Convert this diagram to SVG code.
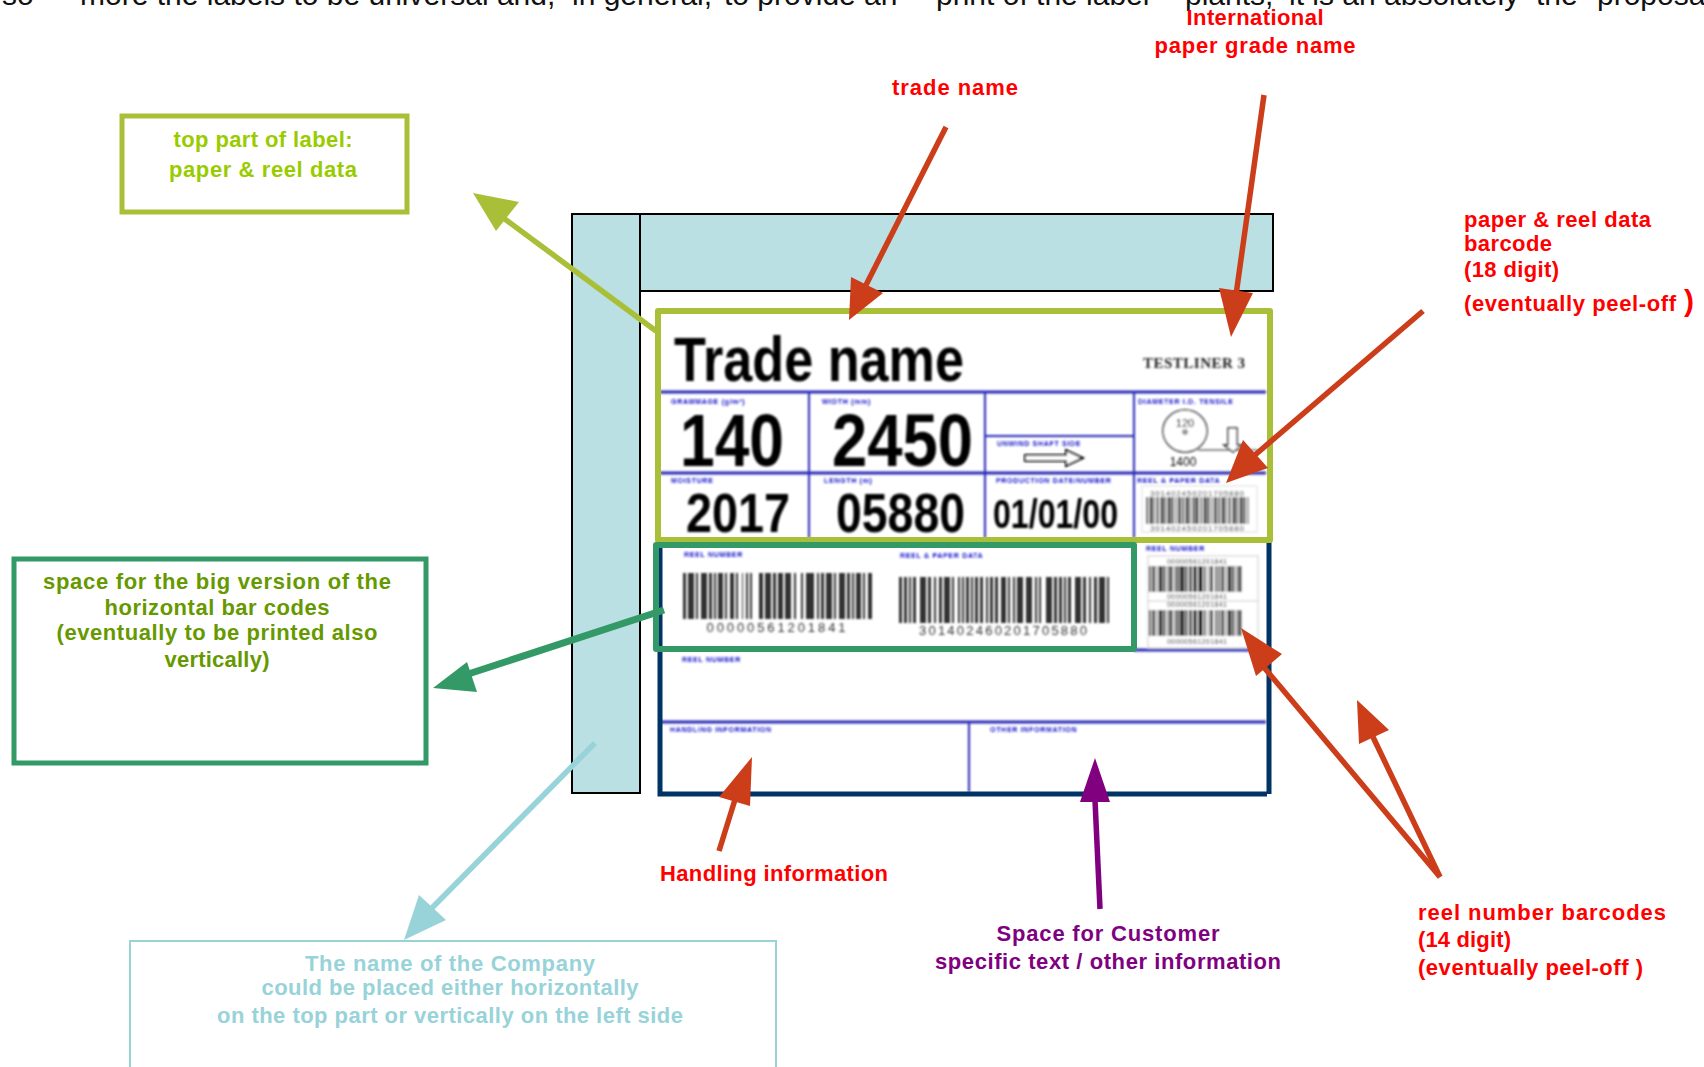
<svg xmlns="http://www.w3.org/2000/svg" width="1704" height="1067" viewBox="0 0 1704 1067">
<defs><filter id="blur" x="-0.02" y="-0.02" width="1.04" height="1.04"><feGaussianBlur stdDeviation="0.8"/></filter></defs>
<style>
text{font-family:"Liberation Sans",Arial,sans-serif}
.r{fill:#f00;font-size:22px;font-weight:bold}
.m{text-anchor:middle}
.p{fill:#800080;font-size:22px;font-weight:bold}
.bl{fill:#11c;font-size:7px;font-weight:bold;letter-spacing:.7px}
.k{fill:#000;font-weight:bold}
.g{stroke:#2a2ab8;stroke-width:2;fill:none}
.h{stroke:#2a2ab8;stroke-width:3;fill:none}
.d{fill:#333;text-anchor:middle}
.bar{fill:none;stroke:#333}
</style>
<rect width="1704" height="1067" fill="#fff"/>
<text y="5" font-size="30" fill="#111"><tspan x="2">so</tspan><tspan x="80">more the labels to be universal and,</tspan><tspan x="572">in general,</tspan><tspan x="724">to provide an</tspan><tspan x="936">print of the label</tspan><tspan x="1185">plants,</tspan><tspan x="1289">it is an absolutely</tspan><tspan x="1536">the</tspan><tspan x="1597">proposal</tspan></text>
<g id="company-band"><path d="M572 214H1273V291H640V793H572Z" fill="#bae0e3" stroke="#000" stroke-width="2"/><path d="M640 214V291" stroke="#000" stroke-width="2"/></g>
<g id="label">
<rect x="660" y="312" width="608" height="482" fill="#fff"/>
<g filter="url(#blur)">
<path class="h" d="M660 392H1266M660 473H1266M660 722H1266M1134 650H1258"/>
<path class="g" d="M809 392V538M985 392V538M1134 392V538M985 436H1134M969 722V792"/>
<text class="k" x="674" y="381" font-size="63" textLength="290" lengthAdjust="spacingAndGlyphs">Trade name</text>
<text x="1143" y="368" font-size="15" font-weight="bold" style="font-family:'Liberation Serif',serif" textLength="102" fill="#222">TESTLINER 3</text>
<text class="bl" x="671" y="404">GRAMMAGE (g/m²)</text><text class="bl" x="822" y="404">WIDTH (mm)</text><text class="bl" x="997" y="446">UNWIND SHAFT SIDE</text><text class="bl" x="1138" y="404">DIAMETER I.D. TENSILE</text>
<text class="bl" x="671" y="483">MOISTURE</text><text class="bl" x="824" y="483">LENGTH (m)</text><text class="bl" x="996" y="483">PRODUCTION DATE/NUMBER</text><text class="bl" x="1137" y="483">REEL &amp; PAPER DATA</text>
<text class="k" x="680" y="466" font-size="74" textLength="104" lengthAdjust="spacingAndGlyphs">140</text><text class="k" x="832" y="466" font-size="74" textLength="141" lengthAdjust="spacingAndGlyphs">2450</text>
<text class="k" x="686" y="532" font-size="56" textLength="104" lengthAdjust="spacingAndGlyphs">2017</text><text class="k" x="836" y="532" font-size="56" textLength="129" lengthAdjust="spacingAndGlyphs">05880</text><text class="k" x="993" y="528" font-size="40" textLength="125" lengthAdjust="spacingAndGlyphs">01/01/00</text>
<path d="M1025 455H1066V450L1083 458L1066 466V461H1025Z" fill="#fff" stroke="#000" stroke-width="2"/>
<ellipse cx="1185" cy="431" rx="22" ry="21" fill="#fff" stroke="#222" stroke-width="1.5"/><text x="1185" y="427" font-size="11" text-anchor="middle">120</text><circle cx="1185" cy="432" r="3" fill="#999"/><path d="M1198 450H1258" stroke="#222"/><path d="M1228 428H1237V445H1242L1233 452L1224 445H1228Z" fill="#fff" stroke="#222" stroke-width="1.5"/><text x="1183" y="466" font-size="12" text-anchor="middle">1400</text>
<rect x="1142" y="486" width="115" height="46" fill="#fff" stroke="#ddd"/>
<path class="bar" d="M1146 510.5H1249" stroke-width="27" stroke-dasharray="2 1.5 3 1 1 2 2 2 3 1 1.5 1.5 3 1 2 2 1 1.5 3 1 2 1.5 3 1 1 2 2 1 3 2 1.5 1.5 3 1 2 2 1 1.5 3 1"/>
<text class="d" x="1197" y="496" font-size="8" textLength="94">301402450201705880</text><text class="d" x="1197" y="531" font-size="8" textLength="94">301402450201705880</text>
<text class="bl" x="684" y="557">REEL NUMBER</text><text class="bl" x="900" y="558">REEL &amp; PAPER DATA</text><text class="bl" x="1146" y="551">REEL NUMBER</text><text class="bl" x="682" y="662">REEL NUMBER</text><text class="bl" x="670" y="732">HANDLING INFORMATION</text><text class="bl" x="990" y="732">OTHER INFORMATION</text>
<path class="bar" d="M683 596H872" stroke-width="46" stroke-dasharray="3 2 6 2 2 3 6 2 3 2 2 2 5 2 2 3 4 2 2 4 1 3 2 2 2 7 4 2 6 2 3 2 5 2 6 3 2 5 2 3 8 3 2 2"/>
<path class="bar" d="M899 600H1112" stroke-width="46" stroke-dasharray="3 2 3 2 2 2 3 4 6 2 3 3 2 3 3 2 6 2 2 4 2 2 2 2 3 2 2 2 3 2 3 3 2 2 3 2 3 3 5 2 2 3 2 2 6 3 6 3 2 2 2 5 6 2"/>
<text class="d" x="776" y="632" font-size="13" textLength="139">00000561201841</text><text class="d" x="1003" y="635" font-size="13" textLength="168">301402460201705880</text>
<rect x="1148" y="556" width="110" height="92" fill="#fff" stroke="#ccc"/><path d="M1148 601H1258" stroke="#ccc"/>
<path class="bar" d="M1149 579H1243" stroke="#555" stroke-width="26" stroke-dasharray="2 1 3 1 1 1.5 4 1 2 2 1 1 3 2 1 1 2 1 5 1 2 1.5 3 1 4 1 5 1 2 2 1 1 3 2 2 1"/>
<path class="bar" d="M1149 623H1243" stroke="#555" stroke-width="26" stroke-dasharray="2 1 3 1 1 1.5 4 1 2 2 1 1 3 2 1 1 2 1 5 1 2 1.5 3 1 4 1 5 1 2 2 1 1 3 2 2 1"/>
<text class="d" x="1197" y="564" font-size="7" textLength="60">00000561201841</text><text class="d" x="1197" y="599" font-size="7" textLength="60">00000561201841</text><text class="d" x="1197" y="607" font-size="7" textLength="60">00000561201841</text><text class="d" x="1197" y="644" font-size="7" textLength="60">00000561201841</text>
</g>
<path d="M660 546V794H1267M1269 540V794" fill="none" stroke="#003366" stroke-width="5"/>
<rect x="658" y="311" width="612" height="229" fill="none" stroke="#a9bf37" stroke-width="6" stroke-linejoin="round"/>
<rect x="656" y="545" width="478" height="104" fill="none" stroke="#339966" stroke-width="6" stroke-linejoin="round"/>
</g>
<g id="connectors" fill="none" stroke-width="5.5">
<path d="M656 331L490 208" stroke="#a9bf37"/><path d="M473 193L519 202L496 231Z" fill="#a9bf37" stroke="none"/>
<path d="M946 127L866 285" stroke="#cc3d1a"/><path d="M849 320L851 277L883 293Z" fill="#cc3d1a" stroke="none"/>
<path d="M1264 95L1236 295" stroke="#cc3d1a"/><path d="M1231 337L1219 288L1253 293Z" fill="#cc3d1a" stroke="none"/>
<path d="M1423 311L1255 455" stroke="#cc3d1a"/><path d="M1226 483L1243 440L1268 468Z" fill="#cc3d1a" stroke="none"/>
<path d="M664 610L450 680" stroke="#339966" stroke-width="7"/><path d="M433 688L467 662L477 692Z" fill="#339966" stroke="none"/>
<path d="M595 743L425 915" stroke="#97d3d8"/><path d="M404 940L419 895L446 920Z" fill="#97d3d8" stroke="none"/>
<path d="M719 851L738 790" stroke="#cc3d1a"/><path d="M752 757L750 806L719 797Z" fill="#cc3d1a" stroke="none"/>
<path d="M1100 909L1095 800" stroke="#800080"/><path d="M1095 758L1110 802L1080 802Z" fill="#800080" stroke="none"/>
<path d="M1440 877L1262 665" stroke="#cc3d1a"/><path d="M1241 628L1282 654L1256 676Z" fill="#cc3d1a" stroke="none"/>
<path d="M1440 877L1373 737" stroke="#cc3d1a"/><path d="M1357 700L1389 730L1359 744Z" fill="#cc3d1a" stroke="none"/>
</g>
<g id="box-top"><rect x="122" y="116" width="285" height="96" fill="#fff" stroke="#a9bf37" stroke-width="5"/><g fill="#99cc00" font-size="22" font-weight="bold" text-anchor="middle"><text x="263" y="147" textLength="179">top part of label:</text><text x="263" y="177" textLength="188">paper &amp; reel data</text></g></g>
<g id="box-space"><rect x="14" y="559" width="412" height="204" fill="#fff" stroke="#339966" stroke-width="5"/><g fill="#669900" font-size="22" font-weight="bold" text-anchor="middle"><text x="217" y="589" textLength="348">space for the big version of the</text><text x="217" y="615" textLength="225">horizontal bar codes</text><text x="217" y="640" textLength="321">(eventually to be printed also</text><text x="217" y="667" textLength="105">vertically)</text></g></g>
<g id="box-company"><path d="M130 1067V941H776V1067" fill="#fff" stroke="#97d3d8" stroke-width="2"/><g fill="#97d3d8" font-size="22" font-weight="bold" text-anchor="middle"><text x="450" y="971" textLength="290">The name of the Company</text><text x="450" y="995" textLength="377">could be placed either horizontally</text><text x="450" y="1023" textLength="466">on the top part or vertically on the left side</text></g></g>
<g id="labels">
<text class="r m" x="1255" y="25" textLength="137">International</text><text class="r m" x="1255" y="53" textLength="201">paper grade name</text>
<text class="r m" x="955" y="95" textLength="126">trade name</text>
<text class="r" x="1464" y="227" textLength="187">paper &amp; reel data</text><text class="r" x="1464" y="251" textLength="88">barcode</text><text class="r" x="1464" y="277" textLength="95">(18 digit)</text><text class="r" x="1464" y="311" textLength="212">(eventually peel-off</text><text class="r" x="1684" y="311" style="font-size:30px">)</text>
<text class="r m" x="774" y="881" textLength="228">Handling information</text>
<text class="p m" x="1108" y="941" textLength="223">Space for Customer</text><text class="p m" x="1108" y="969" textLength="346">specific text / other information</text>
<text class="r" x="1418" y="920" textLength="248">reel number barcodes</text><text class="r" x="1418" y="947" textLength="93">(14 digit)</text><text class="r" x="1418" y="975" textLength="225">(eventually peel-off )</text>
</g>
</svg>
